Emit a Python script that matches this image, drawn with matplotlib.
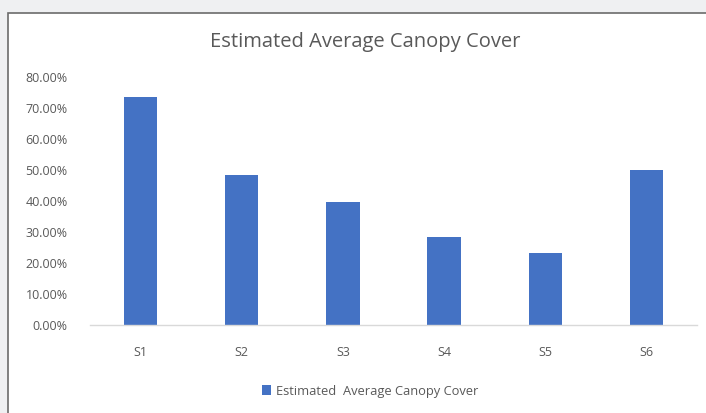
import matplotlib
matplotlib.use("Agg")
from matplotlib import pyplot as plt
from matplotlib.patches import Rectangle
from matplotlib.ticker import FuncFormatter, MultipleLocator

# 数据
sites = ["S1", "S2", "S3", "S4", "S5", "S6"]
canopy_cover = [0.734, 0.484, 0.397, 0.283, 0.231, 0.499]
series_name = "Estimated  Average Canopy Cover"
title = "Estimated Average Canopy Cover"

bar_color = "#4472c4"
text_color = "#595959"
plt.rcParams["font.family"] = ["Open Sans", "DejaVu Sans"]

fig = plt.figure(figsize=(7.06, 4.13), dpi=100)
fig.patch.set_facecolor("#eff0f2")

# 图表外框
frame = Rectangle((8 / 706, -0.1), 1.0, 1 - 13 / 413 + 0.1, transform=fig.transFigure,
                  facecolor="white", edgecolor="#6b6b6b", linewidth=1.2, zorder=-5)
fig.patches.append(frame)

ax = fig.add_axes([90 / 706, 1 - 325 / 413, 607 / 706, 248 / 413])
ax.set_zorder(2)
ax.set_facecolor("none")
x = list(range(len(sites)))
ax.bar(x, canopy_cover, width=0.33, color=bar_color, label=series_name, zorder=2)

ax.set_xlim(-0.5, len(sites) - 0.5)
ax.set_ylim(0, 0.8)
ax.yaxis.set_major_locator(MultipleLocator(0.1))
ax.yaxis.set_major_formatter(FuncFormatter(lambda v, _: f"{v * 100:.2f}%"))
ax.set_xticks(x)
ax.set_xticklabels(sites)

for s in ["top", "right", "left"]:
    ax.spines[s].set_visible(False)
ax.spines["bottom"].set_color("#d9d9d9")
ax.spines["bottom"].set_linewidth(1.0)
ax.tick_params(axis="both", length=0, labelsize=9, labelcolor=text_color)
ax.tick_params(axis="x", pad=15)
ax.tick_params(axis="y", pad=16)

fig.text(365 / 706, 1 - 42 / 413, title, ha="center", va="center",
         fontsize=14.5, color=text_color, zorder=3)

leg = ax.legend(loc="center", bbox_to_anchor=(370 / 706, 1 - 391 / 413),
                bbox_transform=fig.transFigure, frameon=False, fontsize=9.3,
                handlelength=0.7, handleheight=0.7, handletextpad=0.4)
for t in leg.get_texts():
    t.set_color(text_color)

fig.savefig("out.png", dpi=100, facecolor=fig.get_facecolor())
